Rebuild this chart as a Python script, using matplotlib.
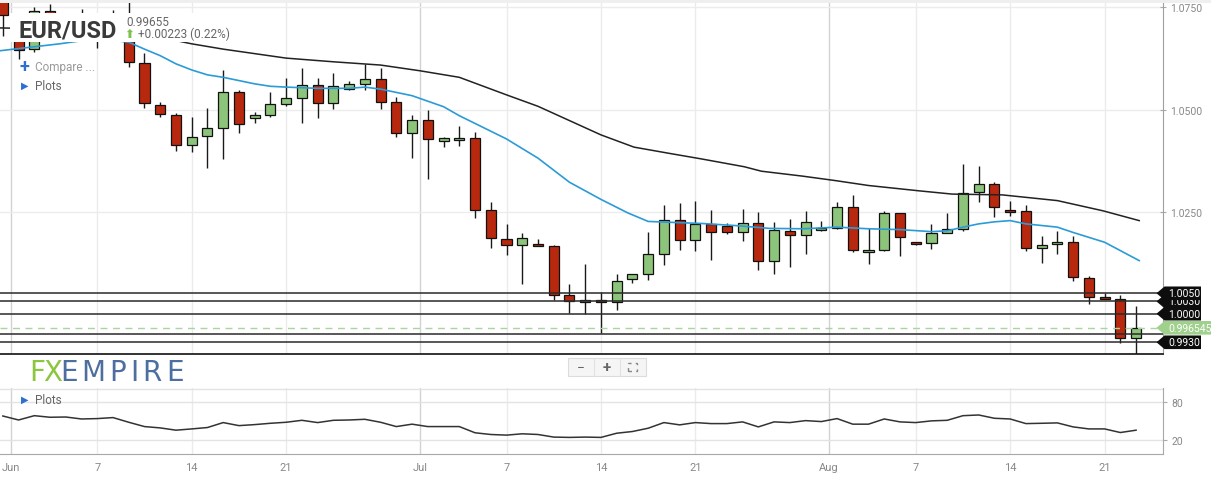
import matplotlib.pyplot as plt
import numpy as np
import pandas as pd
from matplotlib.patches import Rectangle, Polygon
from matplotlib.transforms import IdentityTransform

plt.rcParams['font.family'] = ['Roboto', 'DejaVu Sans']

W, H = 1211, 485

# ---- data ---------------------------------------------------------------
# daily bars, Sunday..Friday (the feed has no Saturday bar)
dates = [d for d in pd.date_range('2022-05-31', '2022-08-23') if d.dayofweek != 5]

opens = [1.0778, 1.0733, 1.0648, 1.0741, 1.0718, 1.0722, 1.0696, 1.0702, 1.0716, 1.0614,
         1.0510, 1.0486, 1.0412, 1.0435, 1.0454, 1.0542, 1.0479, 1.0486, 1.0513, 1.0528,
         1.0559, 1.0515, 1.0550, 1.0562, 1.0574, 1.0518, 1.0442, 1.0474, 1.0422, 1.0425,
         1.0430, 1.0253, 1.0182, 1.0168, 1.0170, 1.0165, 1.0045, 1.0028, 1.0033, 1.0028,
         1.0084, 1.0097, 1.0146, 1.0229, 1.0180, 1.0219, 1.0214, 1.0199, 1.0221, 1.0128,
         1.0202, 1.0192, 1.0204, 1.0209, 1.0261, 1.0150, 1.0155, 1.0246, 1.0175, 1.0172,
         1.0197, 1.0207, 1.0297, 1.0318, 1.0253, 1.0251, 1.0160, 1.0170, 1.0175, 1.0087,
         1.0040, 1.0035, 0.9940]
highs = [1.0786, 1.0737, 1.0750, 1.0759, 1.0727, 1.0747, 1.0710, 1.0743, 1.0774, 1.0638,
         1.0519, 1.0491, 1.0481, 1.0503, 1.0597, 1.0548, 1.0493, 1.0542, 1.0577, 1.0601,
         1.0577, 1.0589, 1.0569, 1.0611, 1.0603, 1.0530, 1.0486, 1.0498, 1.0432, 1.0459,
         1.0444, 1.0273, 1.0219, 1.0197, 1.0182, 1.0168, 1.0072, 1.0122, 1.0052, 1.0097,
         1.0097, 1.0199, 1.0266, 1.0270, 1.0275, 1.0253, 1.0221, 1.0256, 1.0248, 1.0224,
         1.0231, 1.0251, 1.0226, 1.0273, 1.0290, 1.0209, 1.0251, 1.0246, 1.0176, 1.0219,
         1.0246, 1.0367, 1.0362, 1.0322, 1.0275, 1.0266, 1.0190, 1.0202, 1.0190, 1.0092,
         1.0050, 1.0045, 1.0018]
lows = [1.0679, 1.0625, 1.0641, 1.0703, 1.0714, 1.0682, 1.0650, 1.0686, 1.0605, 1.0503,
        1.0483, 1.0398, 1.0395, 1.0356, 1.0378, 1.0442, 1.0466, 1.0481, 1.0508, 1.0466,
        1.0479, 1.0501, 1.0547, 1.0547, 1.0501, 1.0432, 1.0381, 1.0329, 1.0408, 1.0410,
        1.0234, 1.0160, 1.0143, 1.0072, 1.0165, 1.0033, 1.0001, 1.0000, 0.9952, 1.0008,
        1.0074, 1.0082, 1.0119, 1.0155, 1.0153, 1.0131, 1.0194, 1.0177, 1.0106, 1.0097,
        1.0114, 1.0146, 1.0202, 1.0207, 1.0152, 1.0121, 1.0153, 1.0141, 1.0169, 1.0158,
        1.0197, 1.0202, 1.0273, 1.0236, 1.0239, 1.0153, 1.0123, 1.0146, 1.0079, 1.0023,
        1.0035, 0.9928, 0.9901]
closes = [1.0731, 1.0646, 1.0741, 1.0718, 1.0722, 1.0696, 1.0702, 1.0716, 1.0616, 1.0515,
          1.0488, 1.0412, 1.0432, 1.0454, 1.0542, 1.0464, 1.0486, 1.0513, 1.0528, 1.0559,
          1.0515, 1.0557, 1.0562, 1.0574, 1.0518, 1.0442, 1.0474, 1.0427, 1.0430, 1.0430,
          1.0255, 1.0185, 1.0168, 1.0185, 1.0165, 1.0045, 1.0030, 1.0033, 1.0028, 1.0079,
          1.0097, 1.0146, 1.0229, 1.0180, 1.0219, 1.0199, 1.0199, 1.0221, 1.0128, 1.0204,
          1.0192, 1.0224, 1.0209, 1.0261, 1.0155, 1.0155, 1.0246, 1.0187, 1.0170, 1.0197,
          1.0207, 1.0295, 1.0318, 1.0261, 1.0248, 1.0160, 1.0168, 1.0175, 1.0089, 1.0040,
          1.0035, 0.9940, 0.996545]

# moving averages (bar index, price)
ma_fast_idx = [-0.2, 3.6, 6, 8, 9, 10, 11, 12, 13, 14, 15, 16, 17, 18, 20, 22, 23, 24, 25, 26,
               28, 29, 32, 34, 36, 38, 39.7, 41, 42.3, 44.4, 46.5, 48.7, 50.8, 53, 55, 57, 59,
               60, 61, 62, 63, 64, 65, 67, 68, 70, 72.2]
ma_fast = [1.0644, 1.0661, 1.0674, 1.0665, 1.0648, 1.0632, 1.0612, 1.0597, 1.0585, 1.0579,
           1.0571, 1.0563, 1.0557, 1.0555, 1.0552, 1.0552, 1.0555, 1.0550, 1.0542, 1.0534,
           1.0507, 1.0485, 1.0428, 1.0381, 1.0322, 1.0280, 1.0247, 1.0226, 1.0224, 1.0221,
           1.0216, 1.0209, 1.0208, 1.0212, 1.0208, 1.0206, 1.0201, 1.0203, 1.0212, 1.0220,
           1.0225, 1.0228, 1.0220, 1.0212, 1.0199, 1.0175, 1.0130]
ma_slow_idx = [-0.2, 6, 10, 12, 14, 18, 21, 24, 26.5, 29, 32, 34, 38, 40.1, 42.3, 44.4, 47.1,
               48.2, 50.8, 52.9, 55, 58.2, 60.3, 63.5, 65.5, 67, 69.9, 72.2]
ma_slow = [1.0700, 1.0695, 1.0677, 1.0661, 1.0648, 1.0626, 1.0617, 1.0609, 1.0595, 1.0579,
           1.0536, 1.0508, 1.0438, 1.0408, 1.0393, 1.0379, 1.0360, 1.0349, 1.0337, 1.0326,
           1.0314, 1.0301, 1.0293, 1.0291, 1.0283, 1.0277, 1.0252, 1.0228]

# lower oscillator, one value per bar
osc = [57.9, 51.6, 58.4, 55.9, 56.3, 53.2, 53.8, 55.4, 48.0, 41.2,
       39.1, 35.5, 37.5, 39.7, 47.5, 42.7, 44.3, 46.4, 48.0, 51.1,
       47.5, 51.1, 51.6, 52.7, 48.0, 41.2, 45.0, 41.2, 41.2, 41.2,
       31.4, 28.7, 27.7, 29.8, 28.7, 24.6, 24.1, 24.6, 24.1, 30.7,
       33.4, 38.6, 47.5, 43.9, 47.5, 45.9, 45.9, 48.6, 40.7, 48.6,
       47.5, 50.6, 49.1, 53.8, 45.0, 45.0, 53.2, 48.6, 47.5, 50.2,
       51.1, 58.4, 59.5, 54.3, 53.2, 45.9, 46.4, 47.0, 40.7, 37.5,
       37.5, 31.8, 35.5]

levels = [1.0050, 1.0030, 1.0000, 0.9950, 0.9930]
tagged_levels = [1.0030, 1.0050, 1.0000, 0.9930]   # drawing order of the tags
last_price = 0.996545
price_ticks = [1.0750, 1.0500, 1.0250]
osc_ticks = [20, 80]
osc_grid = [20, 80, 100]

GREEN = '#8dc47b'
RED = '#b7280e'
BLUE = '#2b9bd8'


def fx(x):
    return x / W


def fy(y):
    return 1 - y / H


# ---- figure -------------------------------------------------------------
fig = plt.figure(figsize=(W / 100, H / 100), dpi=100)
fig.patch.set_facecolor('white')
ax = fig.add_axes([0, fy(355), fx(1163), (355 - 4) / H])
ax2 = fig.add_axes([0, fy(455), fx(1163), (455 - 389) / H])

n = len(dates)
idx = np.arange(n)

# date ticks: 7/14/21 on the bar, month names between bars
tick_pos, tick_lab, month_pos = [], [], []
for i, d in enumerate(dates):
    if i > 0 and d.month != dates[i - 1].month:
        tick_pos.append(i - 0.5)
        tick_lab.append(d.strftime('%b'))
        month_pos.append(i - 0.5)
    elif d.day in (7, 14, 21):
        tick_pos.append(i)
        tick_lab.append(str(d.day))

for a in (ax, ax2):
    for p in tick_pos:
        col = '#d2d2d2' if p in month_pos else '#ebebeb'
        a.axvline(p, color=col, lw=1, zorder=0)
    a.set_xlim(-0.18, 73.71)
    a.set_facecolor('white')

# ---- candles ------------------------------------------------------------
o = np.array(opens)
c = np.array(closes)
hi = np.array(highs)
lo = np.array(lows)
colors = np.where(c >= o, GREEN, RED)
ax.vlines(idx, lo, hi, color='#1a1a1a', lw=1, zorder=3)
body_h = np.maximum(np.abs(c - o), 0.0004)
body_b = (o + c) / 2 - body_h / 2
ax.bar(idx, body_h, bottom=body_b, width=0.64, color=colors,
       edgecolor='#111111', linewidth=0.9, zorder=4)

ax.plot(ma_fast_idx, ma_fast, color=BLUE, lw=1.2, zorder=5)
ax.plot(ma_slow_idx, ma_slow, color='#222222', lw=1.1, zorder=5)

for lv in levels:
    ax.axhline(lv, color='#2a2a2a', lw=1.1, zorder=6)
ax.axhline(last_price, color='#a9d69d', lw=1, ls=(0, (5, 4)), zorder=6)

for t in price_ticks:
    ax.axhline(t, color='#ececec', lw=1, zorder=0)

ax.set_ylim(0.99013, 1.07610)
ax.set_xticks([])
ax.yaxis.tick_right()
ax.set_yticks(price_ticks)
ax.set_yticklabels([f'{t:.4f}' for t in price_ticks])
ax.tick_params(axis='y', direction='inout', length=5, color='#aaaaaa',
               labelsize=7.5, labelcolor='#888888', pad=3)
for s in ('top', 'left'):
    ax.spines[s].set_visible(False)
ax.spines['right'].set_color('#a0a0a0')
ax.spines['bottom'].set_color('#111111')
ax.spines['bottom'].set_linewidth(1.2)

# ---- lower oscillator ---------------------------------------------------
for g in osc_grid:
    ax2.axhline(g, color='#e3e3e3', lw=1, zorder=0)
ax2.plot(idx, osc, color='#333333', lw=1.1, zorder=3)
ax2.set_ylim(-2.1, 102.1)
ax2.yaxis.tick_right()
ax2.set_yticks(osc_ticks)
ax2.tick_params(axis='y', length=3, color='#aaaaaa', labelsize=7.5,
                labelcolor='#888888', pad=3)
ax2.set_xticks(tick_pos)
ax2.set_xticklabels(tick_lab)
ax2.tick_params(axis='x', length=0, labelsize=8, labelcolor='#888888', pad=6)
for s in ('top', 'left'):
    ax2.spines[s].set_visible(False)
for s in ('right', 'bottom'):
    ax2.spines[s].set_color('#a8a8a8')

# ---- right-hand price tags ----------------------------------------------
xr = ax.transAxes.transform((1, 0))[0]


def tag(level, text, fc, right, z):
    yc = ax.transData.transform((0, level))[1]
    hh = 6.8
    verts = [(xr - 6.5, yc), (xr + 1.5, yc + hh), (right, yc + hh),
             (right, yc - hh), (xr + 1.5, yc - hh)]
    fig.add_artist(Polygon(verts, closed=True, transform=IdentityTransform(),
                           fc=fc, ec='none', zorder=z))
    fig.text(xr + 5, yc, text, transform=IdentityTransform(), color='white',
             fontsize=7.5, va='center', ha='left', zorder=z + 1)


z = 10
for lv in tagged_levels:
    tag(lv, f'{lv:.4f}', '#0d0d0d', 1201, z)
    z += 2
tag(last_price, f'{last_price:.6f}', '#9fd08c', W, z)

# ---- header / overlays ---------------------------------------------------
fig.add_artist(Rectangle((0, fy(4)), 1, 4 / H, transform=fig.transFigure,
                         fc='#efefef', ec='none', zorder=2))
fig.add_artist(Rectangle((fx(10), fy(43)), fx(220), 29 / H, transform=fig.transFigure,
                         fc='white', ec='none', zorder=2))
fig.text(fx(19), fy(38), 'EUR/USD', fontsize=17, fontweight='bold', color='#3a3a3a',
         va='baseline', zorder=3)
fig.text(fx(126), fy(25.5), '0.99655', fontsize=8.5, color='#666666', va='baseline', zorder=3)
fig.text(fx(129.5), fy(34.5), '\u2b06', fontsize=8.5, color='#7dc24b', ha='center',
         va='center', family='DejaVu Sans', fontweight='bold', zorder=3)
fig.text(fx(138), fy(38), '+0.00223 (0.22%)', fontsize=8.5, color='#666666',
         va='baseline', zorder=3)

fig.text(fx(24), fy(67), '+', fontsize=13, fontweight='bold', color='#2f6fd0',
         ha='center', va='center', zorder=3)
fig.text(fx(35), fy(70.5), 'Compare ...', fontsize=8.5, color='#9a9a9a', va='baseline', zorder=3)
fig.text(fx(24.5), fy(86), '\u25b6', fontsize=7, color='#2f6fd0', ha='center', va='center',
         family='DejaVu Sans', zorder=3)
fig.text(fx(35), fy(89.5), 'Plots', fontsize=8.5, color='#666666', va='baseline', zorder=3)

fig.text(fx(24.5), fy(400), '\u25b6', fontsize=7, color='#2f6fd0', ha='center', va='center',
         family='DejaVu Sans', zorder=3)
fig.text(fx(35), fy(404), 'Plots', fontsize=8.5, color='#666666', va='baseline', zorder=3)

# logo, letter by letter (the wordmark is widely spaced)
logo_letters = ['F', 'X', 'E', 'M', 'P', 'I', 'R', 'E']
logo_x = [29, 43, 60, 81, 109, 130, 142, 166]
logo_col = ['#8cc63f'] * 2 + ['#4d6fa0'] * 6
for ch, lx, col in zip(logo_letters, logo_x, logo_col):
    fig.text(fx(lx), fy(381), ch, fontsize=20, color=col, family='DejaVu Sans',
             va='baseline', zorder=3)

# zoom buttons
fig.add_artist(Rectangle((fx(568), fy(377)), fx(78), 18 / H, transform=fig.transFigure,
                         fc='#f5f5f5', ec='#dcdcdc', lw=0.8, zorder=2))
for xs in (594, 620):
    fig.add_artist(plt.Line2D([fx(xs), fx(xs)], [fy(377), fy(359)], transform=fig.transFigure,
                              color='#e2e2e2', lw=0.8, zorder=3))
fig.text(fx(581), fy(368), '\u2212', fontsize=10, color='#666666', ha='center', va='center',
         zorder=3)
fig.text(fx(607), fy(368), '+', fontsize=11, color='#666666', ha='center', va='center',
         fontweight='bold', zorder=3)
fig.add_artist(Rectangle((fx(628), fy(372)), fx(9), 8 / H, transform=fig.transFigure,
                         fill=False, ec='#888888', lw=1, ls=(0, (2.5, 3)), zorder=3))

fig.savefig('out.png', dpi=100)
